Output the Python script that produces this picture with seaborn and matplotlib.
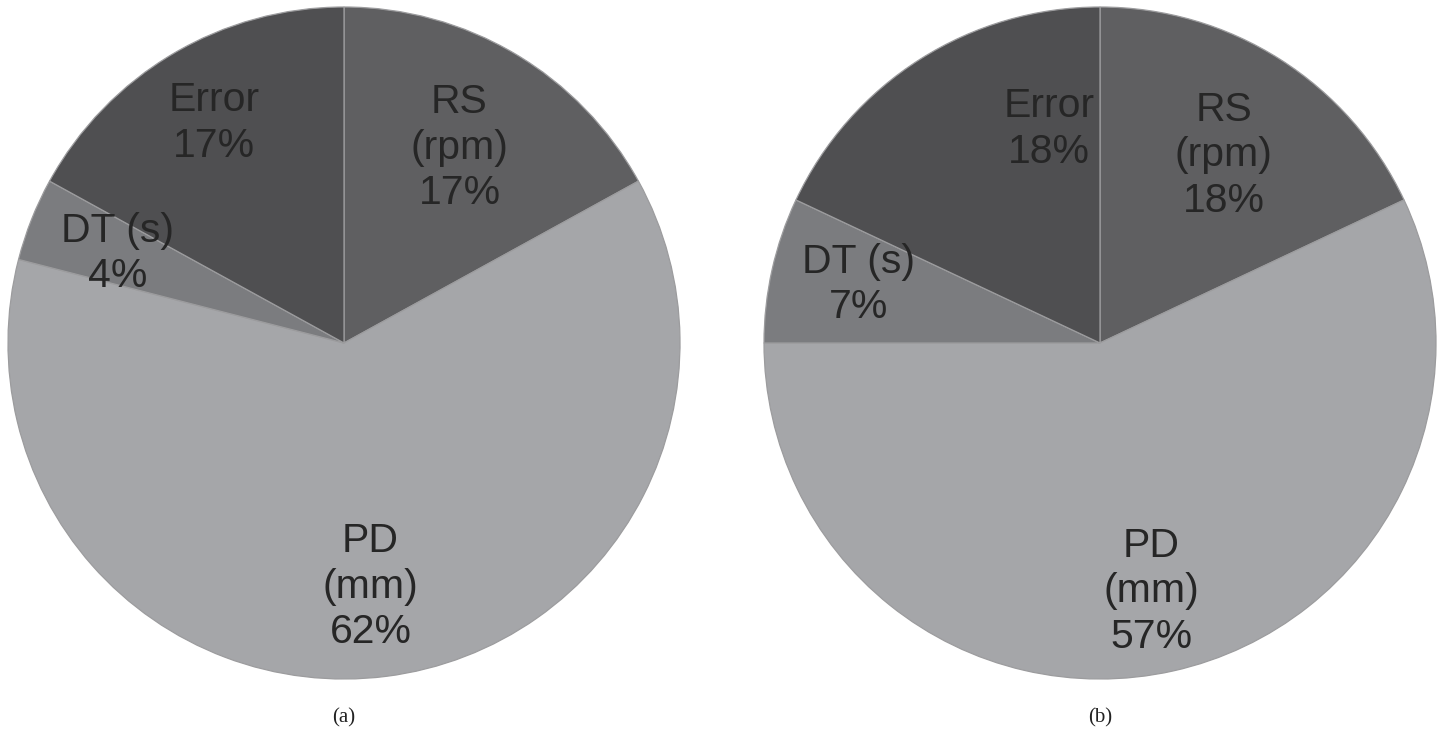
import numpy as np
import matplotlib
matplotlib.use("Agg")
import matplotlib.pyplot as plt
import seaborn as sns

# data
labels = ["RS\n(rpm)", "PD\n(mm)", "DT (s)", "Error"]
share_a = [17, 62, 4, 17]
share_b = [18, 57, 7, 18]
captions = ["(a)", "(b)"]

colors = ["#5f5f61", "#a5a6a9", "#7b7c7f", "#4f4f51"]

sns.set_theme(style="white")
plt.rcParams["font.family"] = ["Liberation Sans", "DejaVu Sans"]

W, H = 1443, 753
fig = plt.figure(figsize=(W / 100, H / 100), dpi=100)

# label radius / angle tweak (deg) per slice, for each chart
lab_r = [[0.675, 0.73, 0.725, 0.76], [0.67, 0.755, 0.74, 0.655]]
lab_da = [[0, -1, 0, 0], [-1, -1, -1, -19]]

centers = [(344, 343), (1100, 343)]
R = 336

for k, shares in enumerate([share_a, share_b]):
    cx, cy = centers[k]
    ax = fig.add_axes([(cx - R) / W, (H - cy - R) / H, 2 * R / W, 2 * R / H])
    wedges, _ = ax.pie(shares, colors=colors, startangle=90, counterclock=False,
                       radius=1, wedgeprops=dict(edgecolor="#9c9c9e", linewidth=0.9))
    for i, w in enumerate(wedges):
        ang = np.deg2rad((w.theta1 + w.theta2) / 2 + lab_da[k][i])
        r = lab_r[k][i]
        ax.text(r * np.cos(ang), r * np.sin(ang), "{}\n{}%".format(labels[i], shares[i]),
                ha="center", va="center", fontsize=29.5, color="#262626", linespacing=1.25)
    ax.set_xlim(-1, 1)
    ax.set_ylim(-1, 1)
    ax.set_aspect("equal")
    ax.axis("off")
    fig.text(cx / W, 1 - 718 / H, captions[k], ha="center", va="center",
             fontsize=15, family="Liberation Serif", color="#222222")

fig.savefig("out.png", dpi=100, facecolor="white")
